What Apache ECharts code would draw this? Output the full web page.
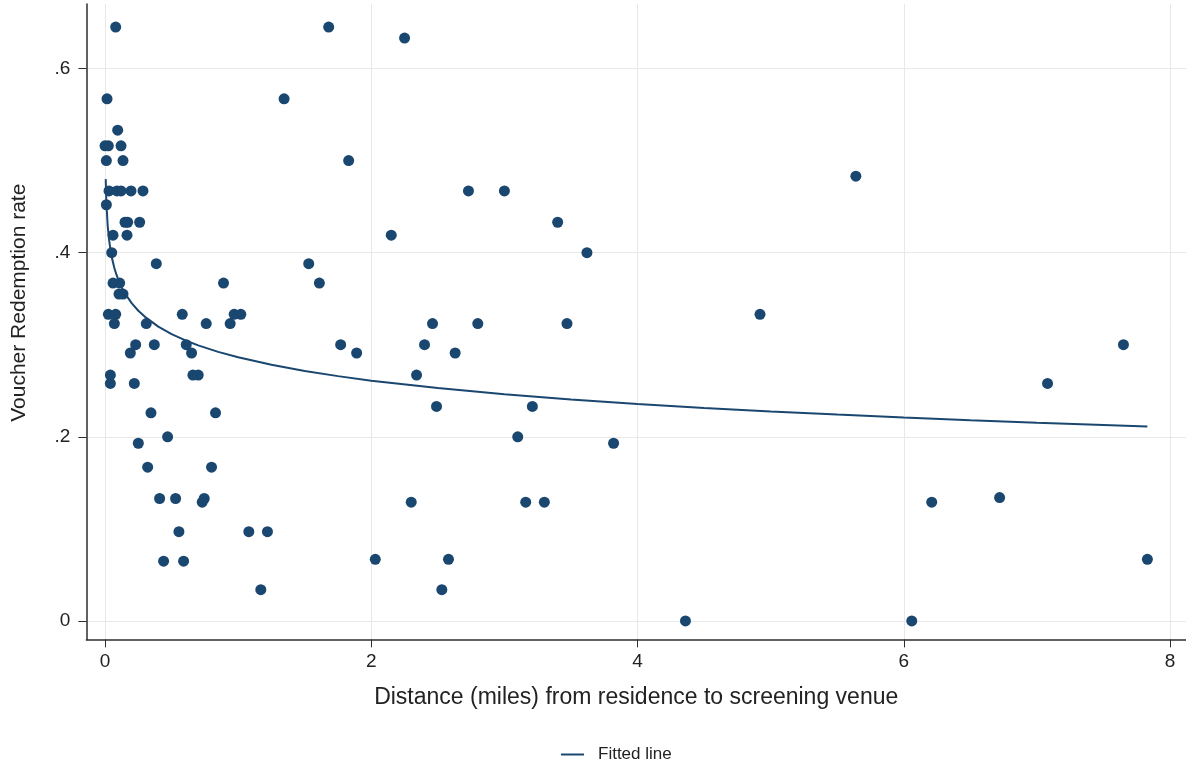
<!DOCTYPE html>
<html>
<head>
<meta charset="utf-8">
<title>Voucher redemption vs distance</title>
<script src="https://cdn.jsdelivr.net/npm/echarts@6/dist/echarts.min.js"></script>
<style>
  html, body { margin: 0; padding: 0; background: #fff; }
  #chart { width: 1186px; height: 766px; }
</style>
</head>
<body>
<div id="chart"></div>
<script>
// distance (miles) for each screening household
var distX = [
  0.08, 0.015, 0.095, 0.0, 0.025, 0.12, 0.01, 0.135, 0.03, 0.09,
  0.12, 0.195, 0.285, 0.01, 0.15, 0.17, 0.26, 0.06, 0.165, 0.05,
  0.385, 0.06, 0.11, 0.89, 0.105, 0.135, 0.025, 0.08, 0.58, 0.97,
  1.02, 0.07, 0.31, 0.76, 0.94, 0.23, 0.37, 0.61, 0.19, 0.65,
  0.04, 0.66, 0.70, 0.04, 0.22, 0.345, 0.83, 0.47, 0.25, 0.32,
  0.80, 0.41, 0.53, 0.745, 0.73, 0.555, 1.08, 1.22, 0.44, 0.59,
  1.17, 1.68, 2.25, 1.345, 1.83, 1.53, 1.61, 2.15, 2.73, 3.0,
  3.40, 3.62, 1.77, 1.89, 2.40, 2.46, 2.80, 2.63, 2.34, 2.49,
  3.21, 3.47, 3.10, 3.82, 2.30, 3.16, 3.30, 2.03, 2.58, 2.53,
  4.36, 4.92, 5.64, 6.06, 6.21, 6.72, 7.08, 7.65, 7.83
];
// redemption rate, same order
var rateY = [
  0.645, 0.567, 0.533, 0.516, 0.516, 0.516, 0.50, 0.50, 0.467, 0.467,
  0.467, 0.467, 0.467, 0.452, 0.433, 0.433, 0.433, 0.419, 0.419, 0.40,
  0.388, 0.367, 0.367, 0.367, 0.355, 0.355, 0.333, 0.333, 0.333, 0.333,
  0.333, 0.323, 0.323, 0.323, 0.323, 0.30, 0.30, 0.30, 0.291, 0.291,
  0.267, 0.267, 0.267, 0.258, 0.258, 0.226, 0.226, 0.20, 0.193, 0.167,
  0.167, 0.133, 0.133, 0.133, 0.129, 0.097, 0.097, 0.097, 0.065, 0.065,
  0.034, 0.645, 0.633, 0.567, 0.50, 0.388, 0.367, 0.419, 0.467, 0.467,
  0.433, 0.40, 0.30, 0.291, 0.30, 0.323, 0.323, 0.291, 0.267, 0.233,
  0.233, 0.323, 0.20, 0.193, 0.129, 0.129, 0.129, 0.067, 0.067, 0.034,
  0.0, 0.333, 0.483, 0.0, 0.129, 0.134, 0.258, 0.30, 0.067
];
// fitted line
var fitX = [0.005, 0.01, 0.02, 0.03, 0.04, 0.055, 0.07, 0.085, 0.1, 0.125, 0.15, 0.2,
  0.25, 0.3, 0.4, 0.5, 0.6, 0.7, 0.85, 1.0, 1.25, 1.5, 1.75, 2.0, 2.5, 3.0, 3.5,
  4.0, 4.5, 5.0, 5.5, 6.0, 6.5, 7.0, 7.5, 7.83];
var fitY = [0.4798, 0.4544, 0.4291, 0.4143, 0.4038, 0.3922, 0.3834, 0.3763, 0.3704, 0.3623,
  0.3556, 0.3451, 0.3369, 0.3303, 0.3197, 0.3116, 0.3049, 0.2993, 0.2922, 0.2863, 0.2782,
  0.2715, 0.2659, 0.2610, 0.2529, 0.2462, 0.2406, 0.2357, 0.2314, 0.2276, 0.2241, 0.2209,
  0.2180, 0.2153, 0.2128, 0.2112];

var xTicks = [0, 2, 4, 6, 8];
var yTicks = [0, 0.2, 0.4, 0.6];
var yTickLabels = ['0', '.2', '.4', '.6'];

(function () {
  var chartDom = document.getElementById('chart');
  var myChart = echarts.init(chartDom);
  var font = "'Liberation Sans', Arial, Helvetica, sans-serif";
  var navy = '#1a476f';
  var axisColor = '#2e2e2e';

  var points = distX.map(function (x, i) { return [x, rateY[i]]; });
  var fitted = fitX.map(function (x, i) { return [x, fitY[i]]; });

  var option = {
    animation: false,
    textStyle: { fontFamily: font },
    grid: {
      left: 86.4,
      right: 0,
      top: 4,
      bottom: 126.6,
      outerBoundsMode: 'none'
    },
    legend: {
      data: [{ name: 'Fitted line', icon: 'rect' }],
      left: 556,
      top: 741,
      itemWidth: 23,
      itemHeight: 2,
      itemStyle: { color: navy },
      textStyle: { fontSize: 17, color: '#222', padding: [0, 0, 0, 9] }
    },
    xAxis: {
      type: 'value',
      min: -0.14,
      max: 8.12,
      name: 'Distance (miles) from residence to screening venue',
      nameLocation: 'middle',
      nameGap: 47,
      nameTextStyle: { fontSize: 23, color: '#222' },
      axisLine: { show: true, onZero: false, lineStyle: { color: axisColor, width: 1.5 } },
      axisTick: { show: true, customValues: xTicks, length: 8, lineStyle: { color: axisColor } },
      axisLabel: { customValues: xTicks, fontSize: 19, color: '#222', margin: 13 },
      splitLine: { show: true, lineStyle: { color: '#e8e8e8', width: 1 } }
    },
    yAxis: {
      type: 'value',
      min: -0.02,
      max: 0.67,
      name: 'Voucher Redemption rate',
      nameLocation: 'middle',
      nameGap: 57,
      nameTextStyle: { fontSize: 21, color: '#222', padding: [0, 0, 0, 38] },
      axisLine: { show: true, onZero: false, lineStyle: { color: axisColor, width: 1.5 } },
      axisTick: { show: true, customValues: yTicks, length: 8, lineStyle: { color: axisColor } },
      axisLabel: {
        customValues: yTicks,
        fontSize: 19,
        color: '#222',
        margin: 16,
        formatter: function (v) {
          var best = 0;
          for (var i = 1; i < yTicks.length; i++) {
            if (Math.abs(yTicks[i] - v) < Math.abs(yTicks[best] - v)) best = i;
          }
          return yTickLabels[best];
        }
      },
      splitLine: { show: true, lineStyle: { color: '#e8e8e8', width: 1 } }
    },
    series: [
      {
        type: 'scatter',
        data: points,
        symbolSize: 11,
        itemStyle: { color: navy, opacity: 1 },
        clip: false
      },
      {
        name: 'Fitted line',
        type: 'line',
        data: fitted,
        symbol: 'none',
        smooth: false,
        lineStyle: { color: navy, width: 2 },
        itemStyle: { color: navy }
      }
    ]
  };

  option && myChart.setOption(option);
})();
</script>
</body>
</html>
